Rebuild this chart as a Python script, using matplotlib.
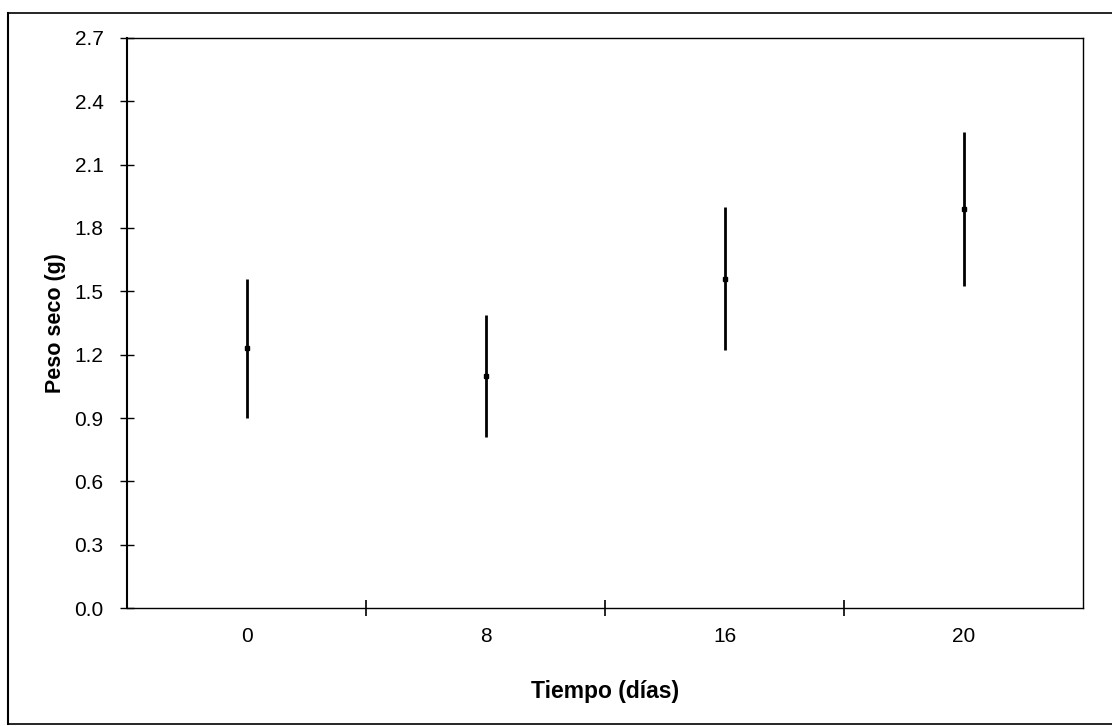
import matplotlib
matplotlib.use("Agg")
import matplotlib.pyplot as plt
from matplotlib.lines import Line2D

# data
dias = ["0", "8", "16", "20"]
peso_seco = [1.23, 1.10, 1.56, 1.89]
error = [0.33, 0.29, 0.34, 0.365]
y_ticks = [0.0, 0.3, 0.6, 0.9, 1.2, 1.5, 1.8, 2.1, 2.4, 2.7]

plt.rcParams['font.family'] = ['Liberation Sans', 'DejaVu Sans']

fig = plt.figure(figsize=(11.12, 7.26), dpi=100)
ax = fig.add_axes([0.1142, 0.1625, 0.974 - 0.1142, 0.9477 - 0.1625])

x = list(range(len(dias)))
ax.errorbar(x, peso_seco, yerr=error, fmt='s', color='k', ms=3.5,
            elinewidth=2.0, capsize=0)

ax.set_xlim(-0.5, len(dias) - 0.5)
ax.set_ylim(0, 2.7)
ax.set_yticks(y_ticks)
ax.set_yticklabels([f'{v:.1f}' for v in y_ticks])
ax.set_xticks(x)
ax.set_xticklabels(dias)
ax.set_xticks([i + 0.5 for i in x[:-1]], minor=True)

ax.tick_params(axis='y', direction='inout', length=10, width=1, labelsize=15, pad=12)
ax.tick_params(axis='x', which='major', length=0, labelsize=15, pad=14)
ax.tick_params(axis='x', which='minor', direction='inout', length=12, width=1.2)

for s in ax.spines.values():
    s.set_linewidth(1.0)
ax.spines['left'].set_linewidth(1.5)

ax.set_ylabel('Peso seco (g)', fontsize=15.5, fontweight='bold', labelpad=6)
ax.set_xlabel('Tiempo (días)', fontsize=16.5, fontweight='bold', labelpad=24)

# outer frame of the scanned figure
W, H = 1112, 726
fig.add_artist(Line2D([8 / W, 8 / W], [1 - 13 / H, 1 - 724 / H], color='k', lw=1.5))
fig.add_artist(Line2D([8 / W, 1], [1 - 13 / H, 1 - 13 / H], color='k', lw=1.2))
fig.add_artist(Line2D([8 / W, 1], [1 - 724 / H, 1 - 724 / H], color='k', lw=1.2))

fig.savefig('out.png', dpi=100)
